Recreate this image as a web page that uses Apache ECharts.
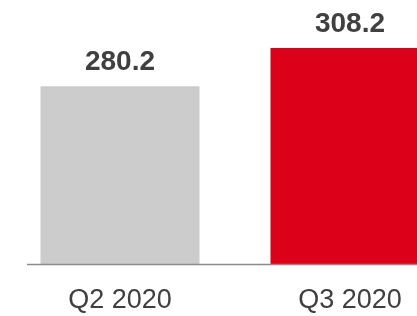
<!DOCTYPE html>
<html>
  <head>
    <meta charset="utf-8" />
    <title>Q2 vs Q3 2020</title>
    <style>
      html, body { margin: 0; padding: 0; background: #fff; }
    </style>
  </head>
  <body>
    <script src="https://cdn.jsdelivr.net/npm/echarts@6/dist/echarts.min.js"></script>

    <div id="chart" style="width: 417px; height: 316px"></div>

    <script>
      const categories = ['Q2 2020', 'Q3 2020'];
      const values = [280.2, 308.2];
      const barColors = ['#cccccc', '#dc0019'];

      let dom = document.getElementById('chart');
      let myChart = echarts.init(dom, null, { width: 417, height: 316 });

      let opts = {
        animation: false,
        textStyle: { fontFamily: 'Liberation Sans, Arial, sans-serif' },
        grid: {
          left: 5,
          top: 4.5,
          width: 460,
          height: 260,
          outerBoundsMode: 'none',
          containLabel: false,
        },
        xAxis: {
          type: 'category',
          data: categories,
          axisLine: { show: false },
          axisTick: { show: false },
          axisLabel: {
            color: '#404040',
            fontSize: 27,
            margin: 23,
          },
        },
        yAxis: {
          type: 'value',
          min: 150,
          max: 340,
          show: false,
          splitLine: { show: false },
        },
        graphic: [
          {
            type: 'line',
            shape: { x1: 27, y1: 264.5, x2: 417, y2: 264.5 },
            style: { stroke: '#8c8c8c', lineWidth: 1.5 },
            z: 10,
          },
        ],
        series: [
          {
            type: 'bar',
            barWidth: 159,
            data: values.map((v, i) => ({
              value: v,
              itemStyle: { color: barColors[i] },
            })),
            label: {
              show: true,
              position: 'top',
              distance: 10,
              color: '#404040',
              fontSize: 28,
              fontWeight: 'bold',
              formatter: (p) => p.value.toFixed(1),
            },
          },
        ],
      };

      myChart.setOption(opts, { notMerge: true });
    </script>
  </body>
</html>
